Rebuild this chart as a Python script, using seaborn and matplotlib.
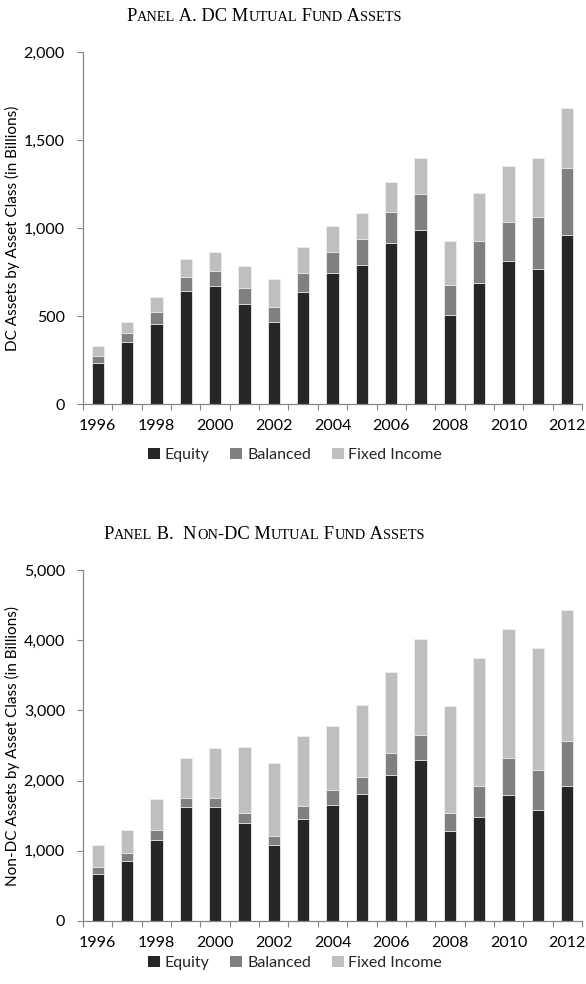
import numpy as np
import pandas as pd
import matplotlib
matplotlib.use("Agg")
import matplotlib.pyplot as plt
import seaborn as sns
from matplotlib.patches import Patch
from matplotlib.ticker import FixedLocator, FuncFormatter

years = list(range(1996, 2013))
year_labels = [str(y) for y in years]

# Panel A: DC mutual fund assets (billions)
dc_equity = [235, 350, 456, 644, 672, 570, 468, 636, 744, 792, 913, 990, 508, 689, 814, 769, 962]
dc_balanced = [39, 55, 68, 79, 84, 89, 85, 108, 122, 144, 180, 205, 170, 235, 222, 295, 381]
dc_fixed = [56, 59, 84, 99, 108, 127, 155, 146, 145, 147, 167, 201, 248, 275, 316, 332, 340]

# Panel B: Non-DC mutual fund assets (billions)
ndc_equity = [671, 857, 1153, 1620, 1620, 1400, 1086, 1460, 1653, 1810, 2086, 2296, 1281, 1486, 1800, 1586, 1924]
ndc_balanced = [96, 110, 137, 133, 133, 139, 126, 179, 214, 243, 314, 357, 262, 443, 524, 567, 639]
ndc_fixed = [314, 329, 453, 567, 718, 942, 1041, 1000, 914, 1028, 1143, 1371, 1520, 1814, 1833, 1733, 1866]

series_names = ["Equity", "Balanced", "Fixed Income"]
colors = ["#262626", "#808080", "#bfbfbf"]

sns.set_theme(style="white")
plt.rcParams['font.family'] = ['Lato', 'DejaVu Sans']

W, H = 586, 984
fig = plt.figure(figsize=(W / 100, H / 100), dpi=100)

FS = 11.5

def draw_panel(ax, eq, bal, fx, ymax, ystep, ylabel):
    df = pd.DataFrame({"year": year_labels, "eq": eq, "bal": bal, "fx": fx})
    df["c1"] = df["eq"]
    df["c2"] = df["eq"] + df["bal"]
    df["c3"] = df["c2"] + df["fx"]
    for col, c in zip(["c3", "c2", "c1"], colors[::-1]):
        sns.barplot(data=df, x="year", y=col, order=year_labels, color=c,
                    width=0.42, saturation=1, edgecolor="#ededed", linewidth=0.6, ax=ax)
    ax.set_xlim(-0.5, len(years) - 0.5)
    ax.set_ylim(0, ymax)
    ax.set_yticks(np.arange(0, ymax + 1, ystep))
    ax.yaxis.set_major_formatter(FuncFormatter(lambda v, p: f"{int(v):,}"))
    ax.set_xticks(range(0, len(years), 2))
    ax.set_xticklabels(year_labels[::2])
    ax.xaxis.set_minor_locator(FixedLocator(np.arange(-0.5, len(years), 1)))
    ax.tick_params(axis="x", which="major", length=0, pad=11, labelsize=FS, colors="#000000")
    ax.tick_params(axis="x", which="minor", length=4, width=0.8, color="#868686", direction="out", bottom=True)
    ax.tick_params(axis="y", which="major", length=4, width=0.8, color="#868686", pad=9,
                   labelsize=FS, left=True, direction="out", labelcolor="#000000")
    for s in ["top", "right"]:
        ax.spines[s].set_visible(False)
    for s in ["left", "bottom"]:
        ax.spines[s].set_color("#868686")
        ax.spines[s].set_linewidth(0.9)
    ax.set_xlabel("")
    ax.set_ylabel(ylabel, fontsize=11, color="#000000")
    ax.yaxis.set_label_coords(-0.127, 0.5)
    ax.grid(False)

axA = fig.add_axes([83 / W, 1 - 404 / H, 499 / W, 352 / H])
draw_panel(axA, dc_equity, dc_balanced, dc_fixed, 2000, 500, "DC Assets by Asset Class (in Billions)")
axB = fig.add_axes([83 / W, 1 - 921 / H, 499 / W, 351 / H])
draw_panel(axB, ndc_equity, ndc_balanced, ndc_fixed, 5000, 1000, "Non-DC Assets by Asset Class (in Billions)")

handles = [Patch(facecolor=c, edgecolor="none") for c in colors]
for ycen in [1 - 455 / H, 1 - 963 / H]:
    fig.legend(handles, series_names, loc="center", bbox_to_anchor=(295 / W, ycen), ncol=3,
               frameon=False, fontsize=FS, handlelength=0.75, handleheight=0.75,
               handletextpad=0.3, columnspacing=1.3)

# small-caps title helper
renderer = fig.canvas.get_renderer()
serif = ['Liberation Serif', 'DejaVu Serif']

def text_width(s, size):
    t = fig.text(0, 0, "|" + s + "|", fontsize=size, family=serif)
    w = t.get_window_extent(renderer).width
    t.remove()
    t2 = fig.text(0, 0, "||", fontsize=size, family=serif)
    w2 = t2.get_window_extent(renderer).width
    t2.remove()
    return w - w2

def smallcaps(text, xc_px, ybase_px, big=13.3, small=10.4):
    runs = []
    for ch in text:
        if ch.isalpha() and ch.islower():
            sz, c = small, ch.upper()
        else:
            sz, c = big, ch
        if runs and runs[-1][1] == sz:
            runs[-1][0] += c
        else:
            runs.append([c, sz])
    widths = [text_width(s, sz) for s, sz in runs]
    total = sum(widths)
    x = xc_px - total / 2
    for (s, sz), w in zip(runs, widths):
        fig.text(x / W, 1 - ybase_px / H, s, fontsize=sz, family=serif, va="baseline", ha="left",
                 color="#000000")
        x += w

smallcaps("Panel A. DC Mutual Fund Assets", 264, 21)
smallcaps("Panel B.  Non-DC Mutual Fund Assets", 264, 539)

fig.savefig("out.png", dpi=100)
